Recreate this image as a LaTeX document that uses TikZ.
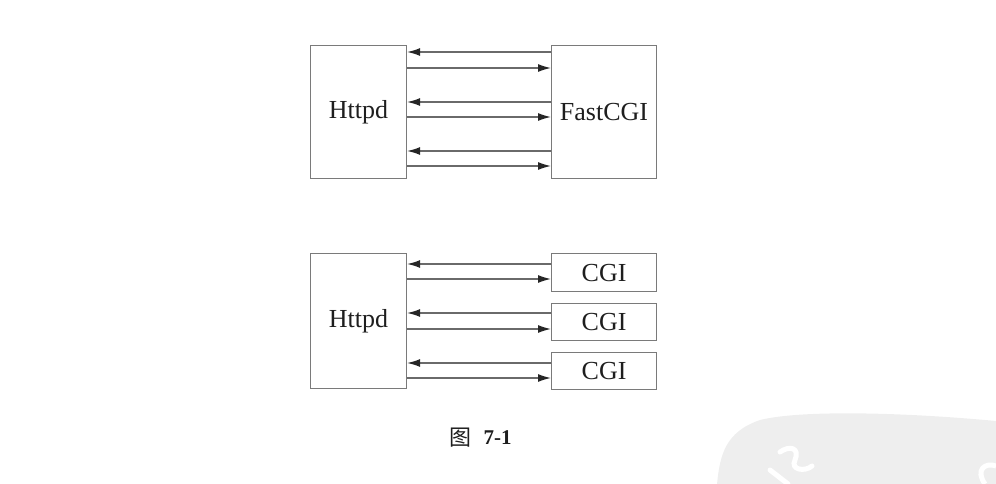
\documentclass[tikz,border=0pt]{standalone}
\usepackage{fontspec}
\setmainfont{Liberation Serif}
\newfontfamily\cjk{Noto Sans CJK SC}
\usetikzlibrary{arrows.meta}
\definecolor{boxc}{HTML}{7A7A7A}
\definecolor{linec}{HTML}{6A6A6A}
\definecolor{txt}{HTML}{1E1E1E}
\definecolor{wm}{HTML}{EEEEEE}
\tikzset{
  box/.style={draw=boxc, line width=1.1pt, anchor=north west, inner sep=0pt},
  lbl/.style={font=\fontsize{26}{26}\selectfont, text=txt},
  conn/.style={draw=linec, line width=1.4pt,
    -{Latex[length=13pt,width=8pt,fill=black!85,color=black!85]}},
}
\begin{document}
\begin{tikzpicture}[x=1pt,y=-1pt]
\useasboundingbox (0,0) rectangle (996,484);
% watermark
\fill[wm] (717,484) .. controls (720,455) and (725,432) .. (760,420)
  .. controls (800,410) and (900,412) .. (996,421) -- (996,484) -- cycle;
\draw[white, line width=5pt, line cap=round] (780,452) .. controls (790,445) and (800,448) .. (795,460)
  .. controls (790,470) and (805,472) .. (812,466);
\draw[white, line width=5pt, line cap=round] (770,470) -- (788,484);
\draw[white, line width=5pt] (985,484) .. controls (975,470) and (985,462) .. (996,466);
% top diagram
\node[box, minimum width=96pt, minimum height=133pt] (h1) at (310,45) {};
\node[lbl] (t1) at (h1.center) {Httpd};
\node[box, minimum width=105pt, minimum height=133pt] (f) at (551,45) {};
\node[lbl] (t2) at (f.center) {FastCGI};
\foreach \ya/\yb in {52/68, 102/117, 151/166}{
  \draw[conn] (f.west |- 0,\ya) -- (h1.east |- 0,\ya);
  \draw[conn] (h1.east |- 0,\yb) -- (f.west |- 0,\yb);
}
% bottom diagram
\node[box, minimum width=96pt, minimum height=135pt] (h2) at (310,253) {};
\node[lbl] (t3) at (h2.center) {Httpd};
\node[box, minimum width=105pt, minimum height=38pt] (c1) at (551,253) {};
\node[lbl] (t4) at (c1.center) {CGI};
\node[box, minimum width=105pt, minimum height=37pt] (c2) at (551,303) {};
\node[lbl] (t5) at (c2.center) {CGI};
\node[box, minimum width=105pt, minimum height=37pt] (c3) at (551,352) {};
\node[lbl] (t6) at (c3.center) {CGI};
\draw[conn] (c1.west |- 0,264) -- (h2.east |- 0,264);
\draw[conn] (h2.east |- 0,279) -- (c1.west |- 0,279);
\draw[conn] (c2.west |- 0,313) -- (h2.east |- 0,313);
\draw[conn] (h2.east |- 0,329) -- (c2.west |- 0,329);
\draw[conn] (c3.west |- 0,363) -- (h2.east |- 0,363);
\draw[conn] (h2.east |- 0,378) -- (c3.west |- 0,378);
% caption
\node[text=txt, font=\cjk\fontsize{22}{22}\selectfont] (cap1) at (460,438) {图};
\node[text=txt, font=\bfseries\fontsize{21}{21}\selectfont, anchor=west] (cap2) at (480,438) {7-1};
\end{tikzpicture}
\end{document}
